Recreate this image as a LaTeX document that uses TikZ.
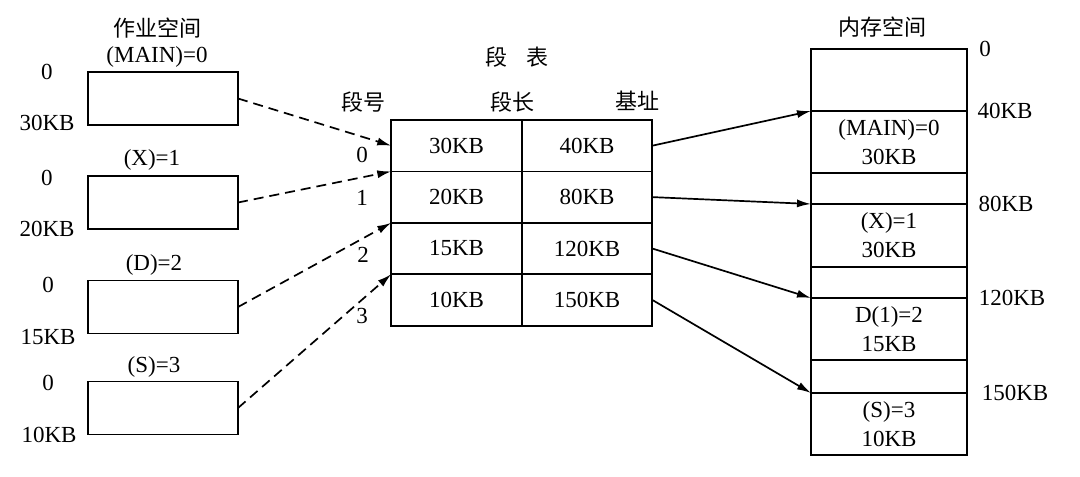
\documentclass[tikz,border=0pt]{standalone}
\usepackage{fontspec}
\setmainfont{Liberation Serif}
\newfontfamily\cjk{Noto Sans CJK SC}
\usetikzlibrary{arrows.meta}
\begin{document}
\begin{tikzpicture}[x=1pt,y=-1pt,
  every node/.style={font=\fontsize{23}{29}\selectfont, inner sep=0pt, outer sep=0pt},
  jobbox/.style={draw, line width=1.8pt, minimum width=150pt, minimum height=53pt},
  cell/.style={draw, line width=1.8pt, minimum width=130.5pt, minimum height=51.4pt},
  memseg/.style={draw, line width=1.8pt, minimum width=156pt, align=center},
  cn/.style={font=\cjk\fontsize{22}{26}\selectfont},
  dasharrow/.style={line width=1.7pt, dash pattern=on 10pt off 6pt, -{Latex[length=14pt,width=8pt]}},
  solidarrow/.style={line width=1.7pt, -{Latex[length=14pt,width=8pt]}}
]
\useasboundingbox (0,0) rectangle (1080,477);

% ---------- job space ----------
\node[cn] (jt) at (157,28) {作业空间};
\node (jl0) at (157,57) {(MAIN)=0};
\node[jobbox] (j0) at (163,98.5) {};
\node (jl1) at (152,160) {(X)=1};
\node[jobbox] (j1) at (163,202.5) {};
\node (jl2) at (154,265) {(D)=2};
\node[jobbox] (j2) at (163,307) {};
\node (jl3) at (154,367) {(S)=3};
\node[jobbox] (j3) at (163,408) {};

\node (a0s) at (47,72) {0};
\node (a0e) at (47,123) {30KB};
\node (a1s) at (47,178) {0};
\node (a1e) at (47,229) {20KB};
\node (a2s) at (48,285) {0};
\node (a2e) at (48,337) {15KB};
\node (a3s) at (48,383) {0};
\node (a3e) at (49,435) {10KB};

% ---------- segment table ----------
\node[cn] (tt) at (517,57) {段\hspace{0.9em}表};
\node[cn] (th0) at (363,102) {段号};
\node[cn] (th1) at (512,102) {段长};
\node[cn] (th2) at (637,101) {基址};

\node[cell] (c01) at (456.5,145.7) {30KB};
\node[cell] (c02) at (587,145.7) {40KB};
\node[cell] (c11) at (456.5,197.1) {20KB};
\node[cell] (c12) at (587,197.1) {80KB};
\node[cell] (c21) at (456.5,248.5) {15KB};
\node[cell] (c22) at (587,248.5) {120KB};
\node[cell] (c31) at (456.5,299.9) {10KB};
\node[cell] (c32) at (587,299.9) {150KB};

\node (n0) at (362,155) {0};
\node (n1) at (362,198) {1};
\node (n2) at (363,255) {2};
\node (n3) at (362,316) {3};

% ---------- memory space ----------
\node[cn] (mt) at (882,27) {内存空间};
\node[memseg, minimum height=62pt] (mtop) at (889,80) {};
\node[memseg, minimum height=62pt] (m0) at (889,142) {(MAIN)=0\\30KB};
\node[memseg, minimum height=31pt] (g1) at (889,188.5) {};
\node[memseg, minimum height=63pt] (m1) at (889,235.5) {(X)=1\\30KB};
\node[memseg, minimum height=31pt] (g2) at (889,282.5) {};
\node[memseg, minimum height=62pt] (m2) at (889,329) {D(1)=2\\15KB};
\node[memseg, minimum height=33pt] (g3) at (889,376.5) {};
\node[memseg, minimum height=62pt] (m3) at (889,424) {(S)=3\\10KB};

\node (b0) at (985,49) {0};
\node (b1) at (1005,111) {40KB};
\node (b2) at (1006,204) {80KB};
\node (b3) at (1012,298) {120KB};
\node (b4) at (1015,393) {150KB};

% ---------- connectors ----------
\draw[dasharrow] (j0.east) -- (c01.west);
\draw[dasharrow] (j1.east) -- (c11.north west);
\draw[dasharrow] (j2.east) -- (c21.north west);
\draw[dasharrow] (j3.east) -- (c31.north west);

\draw[solidarrow] (c02.east) -- (m0.north west);
\draw[solidarrow] (c12.east) -- (m1.north west);
\draw[solidarrow] (c22.east) -- (m2.north west);
\draw[solidarrow] (c32.east) -- (m3.north west);
\end{tikzpicture}
\end{document}
